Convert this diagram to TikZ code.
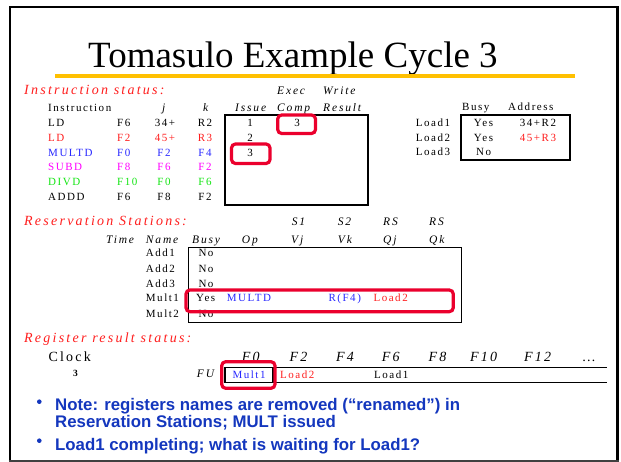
\documentclass[tikz,border=0pt]{standalone}
\usepackage{fontspec}
\setmainfont{Liberation Serif}
\newfontfamily\spacedserif[LetterSpace=14]{Liberation Serif}
\newfontfamily\widerserif[LetterSpace=16]{Liberation Serif}
\newfontfamily\bulletsans{Liberation Sans}
\newcommand\bodyfont{\spacedserif\fontsize{11}{13}\selectfont}
\newcommand\headfont{\widerserif\itshape\fontsize{11.5}{13}\selectfont}
\newcommand\secfont{\widerserif\itshape\fontsize{14}{16}\selectfont}
\newcommand\regfont{\widerserif\itshape\fontsize{14}{16}\selectfont}
\definecolor{txred}{RGB}{255,30,30}
\definecolor{txblue}{RGB}{40,40,255}
\definecolor{txmag}{RGB}{255,0,255}
\definecolor{txgreen}{RGB}{20,230,20}
\definecolor{hired}{RGB}{235,0,45}
\definecolor{bulblue}{RGB}{20,55,190}
\definecolor{rulegold}{RGB}{255,192,0}
\begin{document}
\begin{tikzpicture}[x=1pt,y=-1pt,
  txt/.style={inner sep=0pt, anchor=base west, font=\bodyfont},
  ctxt/.style={inner sep=0pt, anchor=base, font=\bodyfont},
  hd/.style={inner sep=0pt, anchor=base west, font=\headfont},
  sec/.style={inner sep=0pt, anchor=base west, font=\secfont, text=txred},
  reg/.style={inner sep=0pt, anchor=base west, font=\regfont},
  tbox/.style={draw=black, line width=1.2pt},
  hilite/.style={draw=hired, line width=3.2pt, rounded corners=4pt},
  bul/.style={inner sep=0pt, anchor=base west, font=\bulletsans\bfseries\fontsize{16.8}{19}\selectfont, text=bulblue},
  dot/.style={fill=bulblue, circle, inner sep=0pt, minimum size=4.6pt}]
\useasboundingbox (0,0) rectangle (621,462);
\fill[white] (0,0) rectangle (621,462);

% slide frame
\draw[line width=2.6pt] (10,460) -- (10,7) -- (617.5,7) -- (617.5,460);
\draw[line width=2pt, black!75] (8.7,460.5) -- (618.8,460.5);

% title and rule
\node[inner sep=0pt, anchor=base west, font=\fontsize{37}{42}\selectfont] (title) at (88,67.5) {Tomasulo Example Cycle 3};
\draw[rulegold, line width=3.5pt] (55,76) -- (575,76);

% ---------- instruction status ----------
\node[sec] (secA) at (24,95) {Instruction status:};
\node[hd] (hExec) at (277,95) {Exec};
\node[hd] (hWrite) at (323,95) {Write};
\node[txt] (hInstr) at (48,112) {Instruction};
\node[hd] (hj) at (162,112) {j};
\node[hd] (hk) at (203,112) {k};
\node[hd] (hIssue) at (235,112) {Issue};
\node[hd] (hComp) at (277,112) {Comp};
\node[hd] (hResult) at (323,112) {Result};

\node[txt] (i1a) at (48,127) {LD};
\node[txt] (i1b) at (117,127) {F6};
\node[ctxt] (i1c) at (165,127) {34+};
\node[ctxt] (i1d) at (205,127) {R2};

\node[txt, text=txred] (i2a) at (48,141.7) {LD};
\node[txt, text=txred] (i2b) at (117,141.7) {F2};
\node[ctxt, text=txred] (i2c) at (165,141.7) {45+};
\node[ctxt, text=txred] (i2d) at (205,141.7) {R3};

\node[txt, text=txblue] (i3a) at (48,156.3) {MULTD};
\node[txt, text=txblue] (i3b) at (117,156.3) {F0};
\node[ctxt, text=txblue] (i3c) at (164,156.3) {F2};
\node[ctxt, text=txblue] (i3d) at (205,156.3) {F4};

\node[txt, text=txmag] (i4a) at (48,170.9) {SUBD};
\node[txt, text=txmag] (i4b) at (117,170.9) {F8};
\node[ctxt, text=txmag] (i4c) at (164,170.9) {F6};
\node[ctxt, text=txmag] (i4d) at (205,170.9) {F2};

\node[txt, text=txgreen] (i5a) at (48,185.5) {DIVD};
\node[txt, text=txgreen] (i5b) at (117,185.5) {F10};
\node[ctxt, text=txgreen] (i5c) at (164,185.5) {F0};
\node[ctxt, text=txgreen] (i5d) at (205,185.5) {F6};

\node[txt] (i6a) at (48,200.2) {ADDD};
\node[txt] (i6b) at (117,200.2) {F6};
\node[ctxt] (i6c) at (164,200.2) {F8};
\node[ctxt] (i6d) at (205,200.2) {F2};

\draw[tbox] (225,115) rectangle (368,205);
\node[ctxt] (is1) at (250,127) {1};
\node[ctxt] (is2) at (250,141.7) {2};
\node[ctxt] (is3) at (250,156.3) {3};
\node[ctxt] (ec1) at (297,127) {3};

% load buffers
\node[txt] (hBusyL) at (462,110.7) {Busy};
\node[txt] (hAddr) at (508,110.7) {Address};
\draw[tbox] (461,115) rectangle (570,160);
\node[txt] (ld1) at (415.7,126.7) {Load1};
\node[txt] (ld2) at (415.7,141.4) {Load2};
\node[txt] (ld3) at (415.7,156) {Load3};
\node[ctxt] (ld1b) at (483.5,126.7) {Yes};
\node[ctxt] (ld2b) at (483.5,141.4) {Yes};
\node[ctxt] (ld3b) at (483.7,156) {No};
\node[ctxt] (ld1a) at (538,126.7) {34+R2};
\node[ctxt, text=txred] (ld2a) at (538,141.4) {45+R3};

% ---------- reservation stations ----------
\node[sec] (secB) at (24,226) {Reservation Stations:};
\node[hd] (hS1) at (291.7,226) {S1};
\node[hd] (hS2) at (337.7,226) {S2};
\node[hd] (hRS1) at (383,226) {RS};
\node[hd] (hRS2) at (429,226) {RS};
\node[hd] (hTime) at (106,244) {Time};
\node[hd] (hName) at (145.7,244) {Name};
\node[hd] (hBusy) at (192,244) {Busy};
\node[hd] (hOp) at (241.7,244) {Op};
\node[hd] (hVj) at (291,244) {Vj};
\node[hd] (hVk) at (337.7,244) {Vk};
\node[hd] (hQj) at (383,244) {Qj};
\node[hd] (hQk) at (429,244) {Qk};

\draw[tbox] (188.3,247.3) rectangle (461.7,322.3);
\node[txt] (rs1) at (145.7,256.7) {Add1};
\node[txt] (rs2) at (145.7,272.1) {Add2};
\node[txt] (rs3) at (145.7,287.2) {Add3};
\node[txt] (rs4) at (145.7,301.7) {Mult1};
\node[txt] (rs5) at (145.7,317.3) {Mult2};
\node[txt] (rs1b) at (198.3,256.7) {No};
\node[txt] (rs2b) at (198.3,272.1) {No};
\node[txt] (rs3b) at (198.3,287.2) {No};
\node[txt] (rs4b) at (196,301.7) {Yes};
\node[txt] (rs5b) at (198.3,317.3) {No};
\node[txt, text=txblue] (rs4op) at (226.7,301.7) {MULTD};
\node[txt, text=txblue] (rs4vk) at (328.3,301.7) {R(F4)};
\node[txt, text=txred] (rs4qj) at (373.3,301.7) {Load2};

% ---------- register result status ----------
\node[sec] (secC) at (24,342.7) {Register result status:};
\node[inner sep=0pt, anchor=base west, font=\widerserif\fontsize{14}{16}\selectfont] (clk) at (48.3,361.7) {Clock};
\node[inner sep=0pt, anchor=base, font=\bfseries\fontsize{9.5}{11}\selectfont] (clkv) at (75.5,376.7) {3};
\node[reg] (rF0) at (241.7,361.7) {F0};
\node[reg] (rF2) at (289.3,361.7) {F2};
\node[reg] (rF4) at (336,361.7) {F4};
\node[reg] (rF6) at (381.7,361.7) {F6};
\node[reg] (rF8) at (428.3,361.7) {F8};
\node[reg] (rF10) at (470,361.7) {F10};
\node[reg] (rF12) at (524,361.7) {F12};
\node[reg] (rdots) at (582.7,361.7) {\dots};
\node[hd] (hFU) at (196.7,377) {FU};
\draw[line width=1.2pt] (225,367.3) -- (607.3,367.3);
\draw[line width=1.2pt] (225,382.3) -- (607.3,382.3);
\draw[line width=1.2pt] (225,367.3) rectangle (273,382.3);
\node[txt, text=txblue] (fu0) at (232.3,378) {Mult1};
\node[txt, text=txred] (fu2) at (280,378) {Load2};
\node[txt] (fu6) at (374,378) {Load1};

% ---------- highlights ----------
\draw[hilite] (277.7,115) rectangle (315.5,133.5);
\draw[hilite] (231.5,144) rectangle (270,163.5);
\draw[hilite] (186,290) rectangle (453.3,311.7);
\draw[hilite] (221.7,361.7) rectangle (275,388.3);

% ---------- notes ----------
\node[dot] (d1) at (39.3,401.7) {};
\node[bul] (b1) at (55,410.7) {Note: registers names are removed (“renamed”) in};
\node[bul] (b1b) at (55,427.3) {Reservation Stations; MULT issued};
\node[dot] (d2) at (39.3,440.7) {};
\node[bul] (b2) at (55,450.7) {Load1 completing; what is waiting for Load1?};
\end{tikzpicture}
\end{document}
